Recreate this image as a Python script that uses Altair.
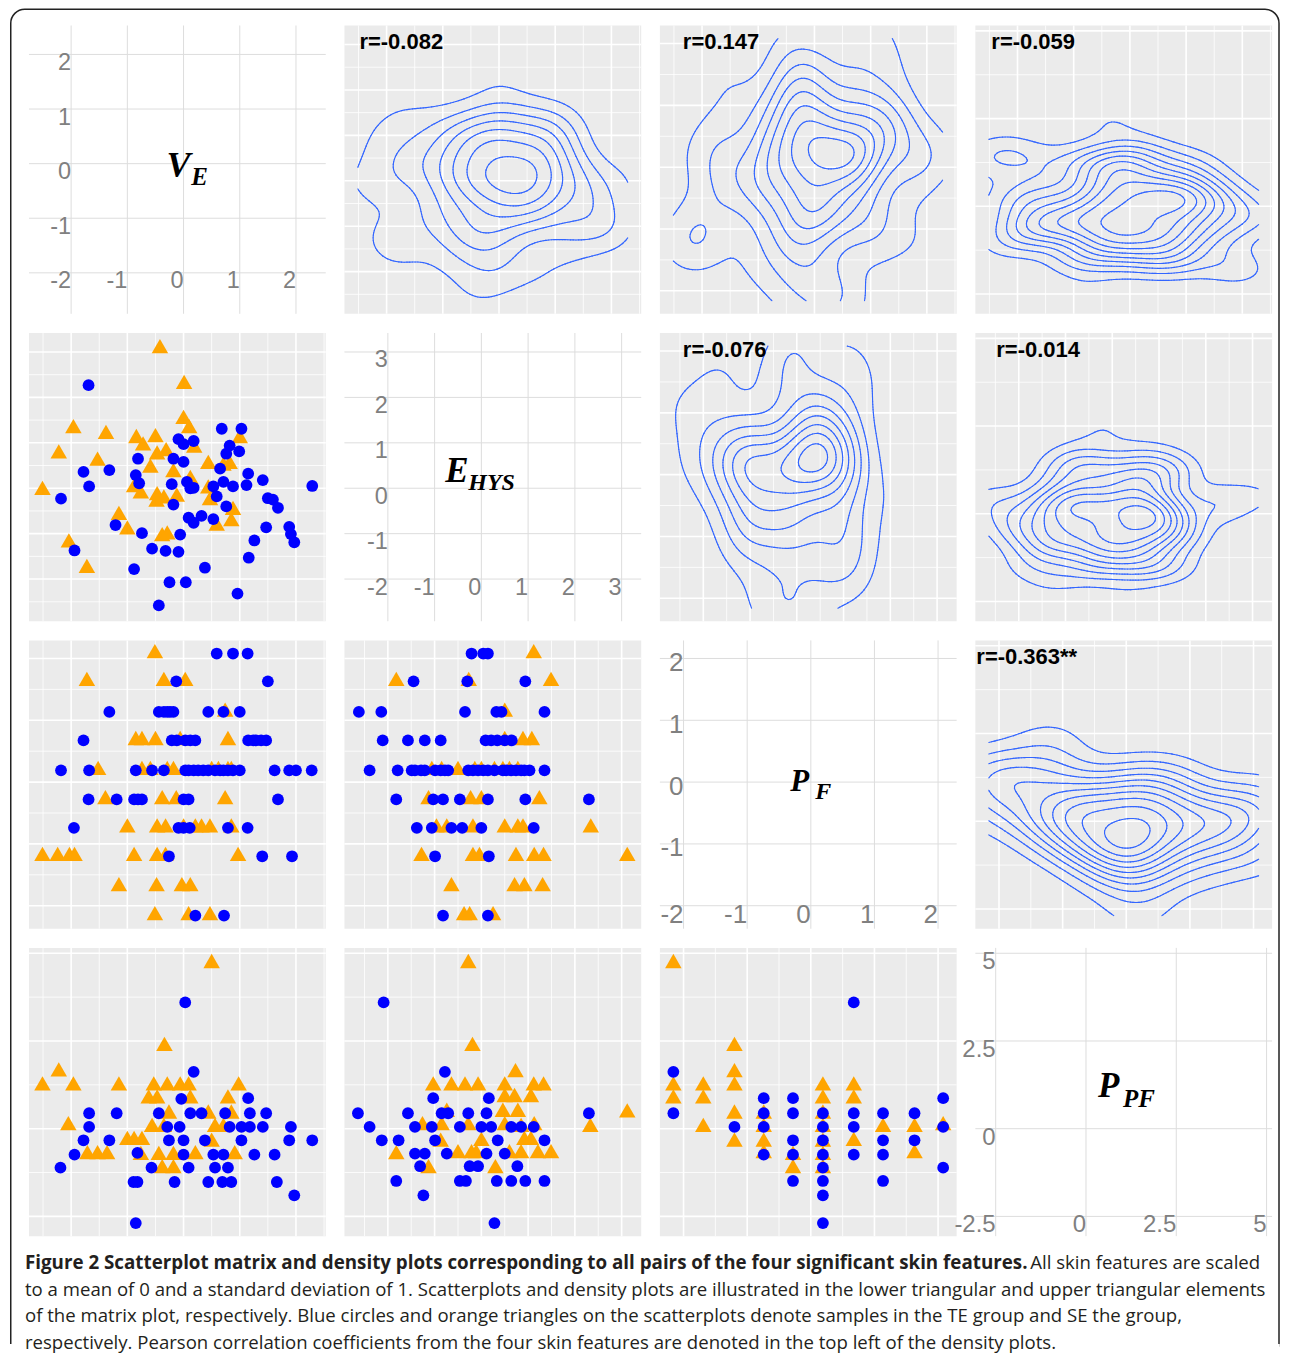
import numpy as np
import pandas as pd
import altair as alt

# ---------------------------------------------------------------
# Data (standardised skin features)
# Scatter panels: (x, y) pairs; TE = blue circles, SE = orange triangles
# ---------------------------------------------------------------
VARS = ["VE", "EHYS", "PF", "PPF"]

# V_E (x) vs E_HYS (y)
S21_TE = [(-1.69, 2.27), (0.68, 1.31), (1.03, 1.31), (-0.09, 1.08), (0.0, 0.97), (0.18, 1.04),
          (-0.81, 0.65), (-0.18, 0.65), (0.0, 0.58), (0.82, 0.94), (0.76, 0.76), (0.99, 0.81),
          (-1.78, 0.36), (-1.32, 0.40), (-1.68, 0.04), (-0.85, 0.29), (-0.79, 0.11), (-0.21, 0.09),
          (0.06, 0.14), (0.12, 0.0), (0.18, 0.01), (0.53, 0.04), (0.71, 0.14), (0.88, 0.04),
          (0.65, 0.43), (1.15, 0.32), (1.12, 0.07), (1.41, 0.18), (2.29, 0.05), (-2.18, -0.23),
          (-0.18, -0.36), (0.59, -0.18), (1.5, -0.22), (1.59, -0.25), (1.68, -0.43), (0.76, -0.40),
          (0.09, -0.65), (0.18, -0.76), (0.32, -0.61), (0.53, -0.68), (-1.21, -0.81), (-0.74, -0.99),
          (-0.06, -1.02), (1.47, -0.86), (1.88, -0.85), (1.91, -1.01), (1.97, -1.19), (1.26, -1.15),
          (-1.94, -1.37), (-0.56, -1.33), (-0.32, -1.38), (-0.09, -1.40), (1.16, -1.53), (-0.88, -1.78),
          (0.38, -1.75), (-0.25, -2.07), (0.04, -2.07), (0.96, -2.32), (-0.44, -2.58)]
S21_SE = [(-0.42, 3.13), (0.01, 2.34), (0.0, 1.57), (0.10, 1.37), (-1.96, 1.37), (-1.38, 1.24),
          (-2.22, 0.81), (-1.53, 0.65), (-2.51, 0.01), (-0.84, 1.15), (-0.72, 0.99), (-0.50, 1.17),
          (-0.47, 0.79), (-0.31, 0.86), (-0.59, 0.50), (0.19, 0.94), (0.44, 0.58), (0.82, 0.58),
          (0.71, 0.54), (1.0, 1.15), (-0.18, 0.40), (0.12, 0.25), (-0.88, 0.07), (-0.76, -0.07),
          (-0.47, -0.11), (-0.35, -0.18), (-0.12, -0.14), (-0.48, -0.25), (0.44, 0.04), (0.47, -0.22),
          (-1.15, -0.54), (-1.0, -0.86), (0.59, -0.78), (0.85, -0.68), (0.88, -0.43), (-0.38, -1.01),
          (-0.29, -0.97), (-2.04, -1.15), (-1.72, -1.71)]

# V_E (x) vs P_F (y)   (dense rows read as runs of overlapping circles)
S31_TE = [(0.59, 2.08), (0.88, 2.08), (1.14, 2.08), (-0.13, 1.63), (1.5, 1.63),
          (-1.32, 1.135), (-0.44, 1.135), (-0.35, 1.135), (-0.29, 1.135), (-0.24, 1.135), (-0.18, 1.135),
          (0.44, 1.135), (0.71, 1.135), (1.0, 1.135),
          (-1.78, 0.675), (-0.21, 0.675), (-0.12, 0.675), (0.03, 0.675), (0.12, 0.675), (0.21, 0.675),
          (1.15, 0.675), (1.24, 0.675), (1.29, 0.675), (1.38, 0.675), (1.47, 0.675),
          (-2.18, 0.19), (-1.68, 0.19), (-0.85, 0.19), (-0.56, 0.19), (-0.35, 0.19), (0.03, 0.19), (0.09, 0.19),
          (0.18, 0.19), (0.26, 0.19), (0.35, 0.19), (0.44, 0.19), (0.56, 0.19), (0.65, 0.19), (0.71, 0.19),
          (0.79, 0.19), (0.88, 0.19), (1.0, 0.19), (1.62, 0.19), (1.88, 0.19), (2.0, 0.19), (2.28, 0.19),
          (-1.69, -0.28), (-1.19, -0.28), (-0.88, -0.28), (-0.81, -0.28), (-0.74, -0.28), (0.0, -0.28),
          (0.09, -0.28), (1.68, -0.28),
          (-1.95, -0.74), (-0.09, -0.74), (0.0, -0.74), (0.11, -0.74), (0.79, -0.74), (1.14, -0.74),
          (-0.26, -1.2), (1.4, -1.2), (1.93, -1.2), (0.21, -2.16), (0.72, -2.16)]
S31_SE = [(-0.51, 2.08), (-1.72, 1.63), (-0.35, 1.63), (0.03, 1.63), (0.74, 1.135),
          (-0.85, 0.675), (-0.74, 0.675), (-0.5, 0.675), (-0.06, 0.675), (0.79, 0.675),
          (-1.52, 0.19), (-0.74, 0.19), (-0.59, 0.19), (-0.29, 0.19), (-0.18, 0.19), (0.5, 0.19), (0.62, 0.19),
          (0.79, 0.19), (0.85, 0.19),
          (-1.39, -0.28), (-0.38, -0.28), (-0.13, -0.28), (0.74, -0.28),
          (-1.0, -0.74), (-0.47, -0.74), (-0.32, -0.74), (0.0, -0.74), (0.21, -0.74), (0.32, -0.74), (0.47, -0.74),
          (0.85, -0.74),
          (-2.51, -1.2), (-2.24, -1.2), (-2.03, -1.2), (-1.94, -1.2), (-0.88, -1.2), (-0.47, -1.2), (-0.32, -1.2),
          (0.97, -1.2),
          (-1.15, -1.69), (-0.48, -1.69), (-0.03, -1.69), (0.12, -1.69),
          (-0.51, -2.16), (0.09, -2.16), (0.47, -2.16)]

# E_HYS (x) vs P_F (y)
S32_TE = [(-0.21, 2.08), (0.04, 2.08), (0.14, 2.08), (-1.45, 1.63), (-0.30, 1.63), (0.94, 1.63),
          (-2.62, 1.135), (-2.14, 1.135), (-0.35, 1.135), (0.32, 1.135), (0.43, 1.135), (1.35, 1.135),
          (-2.11, 0.675), (-1.57, 0.675), (-1.21, 0.675), (-0.87, 0.675), (0.09, 0.675), (0.21, 0.675),
          (0.34, 0.675), (0.5, 0.675), (0.65, 0.675),
          (-2.39, 0.19), (-1.79, 0.19), (-1.49, 0.19), (-1.42, 0.19), (-1.29, 0.19), (-1.21, 0.19), (-0.99, 0.19),
          (-0.87, 0.19), (-0.78, 0.19), (-0.71, 0.19), (-0.28, 0.19), (-0.18, 0.19), (-0.07, 0.19), (0.04, 0.19),
          (0.14, 0.19), (0.28, 0.19), (0.46, 0.19), (0.53, 0.19), (0.64, 0.19), (0.74, 0.19), (0.85, 0.19),
          (0.92, 0.19), (1.03, 0.19), (1.35, 0.19),
          (-1.82, -0.28), (-1.03, -0.28), (-0.82, -0.28), (-0.46, -0.28), (0.14, -0.28), (0.94, -0.28), (2.3, -0.28),
          (-1.38, -0.74), (-1.06, -0.74), (-0.64, -0.74), (-0.41, -0.74), (0.0, -0.74), (1.12, -0.74),
          (-0.99, -1.2), (0.16, -1.2), (-0.82, -2.16), (0.14, -2.16)]
S32_SE = [(1.12, 2.08), (-1.82, 1.63), (-0.27, 1.63), (1.49, 1.63), (0.50, 1.135),
          (0.5, 0.675), (0.89, 0.675), (1.08, 0.675),
          (-1.06, 0.19), (-0.85, 0.19), (-0.5, 0.19), (-0.14, 0.19), (0.0, 0.19), (0.28, 0.19), (0.46, 0.19),
          (0.6, 0.19), (0.78, 0.19),
          (-1.13, -0.28), (-0.23, -0.28), (0.0, -0.28), (1.24, -0.28),
          (-0.96, -0.74), (-0.74, -0.74), (-0.18, -0.74), (0.5, -0.74), (0.78, -0.74), (0.89, -0.74), (2.34, -0.74),
          (-1.28, -1.2), (-0.18, -1.2), (-0.04, -1.2), (0.74, -1.2), (1.13, -1.2), (1.33, -1.2), (3.12, -1.2),
          (-0.64, -1.69), (0.71, -1.69), (0.92, -1.69), (1.31, -1.69),
          (-0.37, -2.16), (-0.25, -2.16), (0.25, -2.16)]

# V_E (x) vs P_PF (y)
S41_TE = [(0.03, 3.60), (0.18, 1.62), (-0.04, 0.85), (1.15, 0.87),
          (-1.68, 0.44), (-1.19, 0.44), (-0.44, 0.44), (0.12, 0.44), (0.32, 0.44), (0.74, 0.44), (1.18, 0.44), (1.47, 0.44),
          (-1.68, 0.05), (-0.29, 0.05), (-0.07, 0.05), (0.82, 0.05), (1.03, 0.05), (1.18, 0.05), (1.41, 0.05), (1.91, 0.05),
          (-1.78, -0.33), (-1.32, -0.33), (-0.26, -0.33), (0.0, -0.33), (0.38, -0.33), (1.03, -0.33), (1.88, -0.33),
          (2.29, -0.33),
          (-1.94, -0.74), (-0.82, -0.69), (0.0, -0.74), (0.53, -0.74), (0.71, -0.74), (1.26, -0.74), (1.62, -0.74),
          (-2.19, -1.11), (-0.57, -1.11), (0.09, -1.11), (0.56, -1.11), (0.79, -1.11),
          (-0.89, -1.52), (-0.82, -1.52), (-0.16, -1.52), (0.44, -1.52), (0.69, -1.52), (0.85, -1.52), (1.66, -1.52),
          (1.97, -1.90), (-0.85, -2.69)]
S41_SE = [(0.5, 4.78), (-0.34, 2.42), (-2.22, 1.69),
          (-2.51, 1.29), (-1.96, 1.29), (-1.15, 1.29), (-0.53, 1.29), (-0.29, 1.29), (-0.06, 1.29), (0.09, 1.29),
          (0.98, 1.29),
          (-0.62, 0.92), (-0.47, 0.92), (0.12, 0.92), (0.79, 0.92),
          (-2.05, 0.16), (-0.26, 0.49), (0.44, 0.49), (0.85, 0.49),
          (-0.56, 0.11), (-0.35, 0.11), (0.56, 0.11), (0.71, 0.11),
          (-1.0, -0.26), (-0.88, -0.26), (-0.74, -0.26), (0.5, -0.31),
          (-1.71, -0.67), (-1.53, -0.67), (-1.36, -0.67), (-0.76, -0.69), (-0.44, -0.69), (-0.18, -0.69),
          (0.21, -0.67), (0.91, -0.67),
          (-0.38, -1.07), (-0.18, -1.07)]

# E_HYS (x) vs P_PF (y)
S42_TE = [(-2.09, 3.60), (-0.78, 1.62), (-1.03, 0.87), (0.16, 0.87),
          (-2.64, 0.44), (-1.57, 0.44), (-0.85, 0.44), (-0.71, 0.44), (-0.28, 0.44), (0.11, 0.44), (2.30, 0.44),
          (-2.39, 0.05), (-1.42, 0.05), (-1.06, 0.05), (-0.46, 0.05), (0.0, 0.05), (0.21, 0.05), (0.64, 0.05),
          (0.85, 0.05), (1.12, 0.05),
          (-2.13, -0.33), (-1.77, -0.33), (-0.99, -0.33), (0.35, -0.33), (1.35, -0.33),
          (-1.42, -0.71), (-1.21, -0.71), (-0.74, -0.71), (0.11, -0.71), (0.50, -0.71),
          (-1.31, -1.07), (-0.25, -1.07), (-0.07, -1.07), (0.77, -1.07),
          (-1.82, -1.49), (-0.46, -1.49), (-0.33, -1.49), (0.33, -1.49), (0.64, -1.49), (0.94, -1.49), (1.35, -1.49),
          (-1.24, -1.90), (0.28, -2.69)]
S42_SE = [(-0.28, 4.78), (-0.19, 2.42), (0.73, 1.67),
          (-1.03, 1.29), (-0.64, 1.29), (-0.35, 1.29), (-0.07, 1.29), (0.50, 1.29), (1.12, 1.29), (1.33, 1.29),
          (0.50, 0.96), (0.71, 0.96), (1.06, 0.96),
          (-0.74, 0.54), (0.46, 0.54), (0.78, 0.54), (3.12, 0.52),
          (-1.26, 0.16), (-0.85, 0.16), (-0.28, 0.16), (0.50, 0.16), (0.85, 0.11), (1.13, 0.16), (2.33, 0.11),
          (-0.87, -0.31), (0.0, -0.29), (0.92, -0.26), (1.06, -0.26),
          (-1.82, -0.67), (-0.50, -0.64), (-0.21, -0.64), (-0.11, -0.64), (0.60, -0.64), (0.85, -0.64),
          (1.21, -0.64), (1.49, -0.64),
          (-1.13, -1.07), (0.30, -1.07)]

# P_F (x) vs P_PF (y)
S43_TE = [(-2.16, 1.62), (-2.16, 0.44), (-1.2, 0.05),
          (-0.74, 0.87), (-0.74, 0.44), (-0.74, 0.05), (-0.74, -0.74),
          (-0.28, 0.87), (-0.28, 0.44), (-0.28, -0.33), (-0.28, -0.74), (-0.28, -1.49),
          (0.19, 0.44), (0.19, 0.05), (0.19, -0.33), (0.19, -0.74), (0.19, -1.11), (0.19, -1.49), (0.19, -1.90),
          (0.19, -2.69),
          (0.675, 3.60), (0.675, 0.44), (0.675, 0.05), (0.675, -0.74),
          (1.135, 0.44), (1.135, -0.33), (1.135, -0.74), (1.135, -1.49),
          (1.63, 0.44), (1.63, -0.33), (2.08, 0.87), (2.08, 0.05), (2.08, -1.11)]
S43_SE = [(-2.16, 4.78), (-2.16, 1.29), (-2.16, 0.92),
          (-1.69, 1.29), (-1.69, 0.92), (-1.69, 0.11),
          (-1.2, 2.42), (-1.2, 1.67), (-1.2, 1.29), (-1.2, 0.49), (-1.2, -0.31),
          (-0.74, 0.49), (-0.74, 0.11), (-0.74, -0.31), (-0.74, -0.64),
          (-0.28, -0.69), (-0.28, -1.07),
          (0.19, 1.29), (0.19, 0.92), (0.19, 0.49), (0.19, 0.11), (0.19, -0.31), (0.19, -0.69), (0.19, -1.07),
          (0.675, 1.29), (0.675, 0.92), (0.675, -0.29),
          (1.135, 0.11), (1.63, 0.11), (1.63, -0.64), (2.08, 0.16)]

# tick labels of the diagonal panels
MAJOR = {"VE": [-2, -1, 0, 1, 2], "EHYS": [-2, -1, 0, 1, 2, 3],
         "PF": [-2, -1, 0, 1, 2], "PPF": [-2.5, 0, 2.5, 5]}
NAMES = {"VE": ("V", "E"), "EHYS": ("E", "HYS"), "PF": ("P", "F"), "PPF": ("P", "PF")}
R_LABELS = {(0, 1): "r=-0.082", (0, 2): "r=0.147", (0, 3): "r=-0.059",
            (1, 2): "r=-0.076", (1, 3): "r=-0.014", (2, 3): "r=-0.363**"}
# number of density contour lines visible in each upper panel
N_CONTOURS = {(0, 1): 7, (0, 2): 8, (0, 3): 9, (1, 2): 8, (1, 3): 9, (2, 3): 10}

CAP_BOLD = ("Figure 2 Scatterplot matrix and density plots corresponding to all pairs of the four "
            "significant skin features.")
CAP_LINES = ["All skin features are scaled",
             "to a mean of 0 and a standard deviation of 1. Scatterplots and density plots are illustrated in "
             "the lower triangular and upper triangular elements",
             "of the matrix plot, respectively. Blue circles and orange triangles on the scatterplots denote "
             "samples in the TE group and SE the group,",
             "respectively. Pearson correlation coefficients from the four skin features are denoted in the top "
             "left of the density plots."]

SCATTER = {(1, 0): (S21_TE, S21_SE), (2, 0): (S31_TE, S31_SE), (2, 1): (S32_TE, S32_SE),
           (3, 0): (S41_TE, S41_SE), (3, 1): (S42_TE, S42_SE), (3, 2): (S43_TE, S43_SE)}

# ---------------------------------------------------------------
# layout / style
# ---------------------------------------------------------------
W, H = 297, 288.5
SP = 18.7
BLUE, ORANGE = "#0000FF", "#FFA500"
CONTOUR = "#3366FF"
PANEL_BG = "#EBEBEB"
R_TRI = "M0,-1.555L1.347,0.778L-1.347,0.778Z"   # R-style filled triangle (pch 17)

DIAG_FMT = {"VE": (23.5, -3.5, -3.5), "EHYS": (23.5, -3.5, -3.5), "PF": (26, -3.5, -8.5), "PPF": (24, -3, -3)}
NAME_POS = {"VE": ((-11, 7, 36), (14, 15, 25)), "EHYS": ((-47.5, 4.7, 35), (-24.5, 13, 24)),
            "PF": ((-18, 6.3, 31), (7, 14.7, 24)), "PPF": ((-25.7, 5.3, 35), (-0.7, 15.3, 25))}
R_POS = {(0, 1): 15, (0, 2): 23, (0, 3): 16, (1, 2): 23, (1, 3): 21, (2, 3): 1}
CAP_SIZE = 18.6

# ---------------------------------------------------------------
# domains (data range + 5 %)
# ---------------------------------------------------------------
vals = {v: [] for v in VARS}
for (r, c), (te, se) in SCATTER.items():
    for px, py in te + se:
        vals[VARS[c]].append(px)
        vals[VARS[r]].append(py)
DOM = {}
for v in VARS:
    lo, hi = min(vals[v]), max(vals[v])
    e = 0.05 * (hi - lo)
    DOM[v] = [lo - e, hi + e]


def minor_ticks(v):
    m = MAJOR[v]
    st = m[1] - m[0]
    cand = [m[0] - st / 2] + [a + st / 2 for a in m]
    return [t for t in cand if DOM[v][0] <= t <= DOM[v][1]]


# ---------------------------------------------------------------
# 2-d kernel density (as MASS::kde2d with bandwidth.nrd) + contours
# ---------------------------------------------------------------
def bw_nrd(v):
    q1, q3 = np.quantile(v, [0.25, 0.75])
    s = min(np.std(v, ddof=1), (q3 - q1) / 1.34)
    return 4 * 1.06 * s * len(v) ** (-0.2)


def kde2d(x, y, n=100):
    gx = np.linspace(x.min(), x.max(), n)
    gy = np.linspace(y.min(), y.max(), n)
    hx, hy = bw_nrd(x) / 4, bw_nrd(y) / 4
    phi = lambda u: np.exp(-0.5 * u * u) / np.sqrt(2 * np.pi)
    ax = phi((gx[:, None] - x[None, :]) / hx)
    ay = phi((gy[:, None] - y[None, :]) / hy)
    z = ax @ ay.T / (len(x) * hx * hy)
    return gx, gy, z


def iso_segments(gx, gy, z, lev):
    A = z >= lev
    a, b, c, d = A[:-1, :-1], A[1:, :-1], A[1:, 1:], A[:-1, 1:]
    idx = a * 1 + b * 2 + c * 4 + d * 8
    ii, jj = np.nonzero((idx > 0) & (idx < 15))
    out = []
    for i, j in zip(ii, jj):
        z0, z1, z2, z3 = z[i, j], z[i + 1, j], z[i + 1, j + 1], z[i, j + 1]

        def ept(k):
            if k == 0:
                t = (lev - z0) / (z1 - z0)
                return gx[i] + t * (gx[i + 1] - gx[i]), gy[j]
            if k == 1:
                t = (lev - z1) / (z2 - z1)
                return gx[i + 1], gy[j] + t * (gy[j + 1] - gy[j])
            if k == 2:
                t = (lev - z3) / (z2 - z3)
                return gx[i] + t * (gx[i + 1] - gx[i]), gy[j + 1]
            t = (lev - z0) / (z3 - z0)
            return gx[i], gy[j] + t * (gy[j + 1] - gy[j])

        flags = [a[i, j] != b[i, j], b[i, j] != c[i, j], d[i, j] != c[i, j], a[i, j] != d[i, j]]
        cr = [k for k in range(4) if flags[k]]
        if len(cr) == 2:
            pairs = [(cr[0], cr[1])]
        else:
            center = (z0 + z1 + z2 + z3) / 4 >= lev
            pairs = [(0, 1), (2, 3)] if (idx[i, j] == 5) == center else [(3, 0), (1, 2)]
        for p, q in pairs:
            p1, p2 = ept(p), ept(q)
            out.append((p1[0], p1[1], p2[0], p2[1]))
    return out


def density_df(points, n_lines):
    arr = np.array(points, dtype=float)
    gx, gy, z = kde2d(arr[:, 0], arr[:, 1])
    step = z.max() / (n_lines + 0.6)
    segs = []
    for k in range(1, n_lines + 1):
        segs += iso_segments(gx, gy, z, k * step)
    return pd.DataFrame(segs, columns=["x", "y", "x2", "y2"]).round(4)


# ---------------------------------------------------------------
# panels
# ---------------------------------------------------------------
def one_row():
    return pd.DataFrame({"k": [0]})


def panel(r, c):
    if r == c:
        xv = yv = VARS[r]
    elif r > c:
        xv, yv = VARS[c], VARS[r]
    else:
        xv, yv = VARS[r], VARS[c]
    xs = alt.Scale(domain=DOM[xv], nice=False, zero=False)
    ys = alt.Scale(domain=DOM[yv], nice=False, zero=False)
    X = lambda f: alt.X(f, type="quantitative", scale=xs, axis=None)
    Y = lambda f: alt.Y(f, type="quantitative", scale=ys, axis=None)
    layers = []

    if r == c:
        v = VARS[r]
        gdx = pd.DataFrame({"v": MAJOR[v]})
        layers.append(alt.Chart(gdx).mark_rule(color="#DDDDDD", strokeWidth=1).encode(x=X("v")))
        layers.append(alt.Chart(gdx).mark_rule(color="#DDDDDD", strokeWidth=1).encode(y=Y("v")))
        size, xdy, ydy = DIAG_FMT[v]
        lab = pd.DataFrame({"v": MAJOR[v], "t": [f"{t:g}" for t in MAJOR[v]], "b": MAJOR[v][0]})
        tstyle = dict(align="right", baseline="top", font="Liberation Sans", fontSize=size, color="#808080")
        layers.append(alt.Chart(lab).mark_text(dy=xdy, **tstyle).encode(x=X("v"), y=Y("b"), text="t:N"))
        layers.append(alt.Chart(lab.iloc[1:]).mark_text(dy=ydy, **tstyle).encode(
            x=X("b"), y=Y("v"), text="t:N"))
        main, sub = NAMES[v]
        (mdx, mdy, ms), (sdx, sdy, ss) = NAME_POS[v]
        nstyle = dict(align="left", baseline="alphabetic", font="Liberation Serif", fontStyle="italic",
                      fontWeight="bold", color="#000000")
        layers.append(alt.Chart(pd.DataFrame({"t": [main]})).mark_text(fontSize=ms, **nstyle).encode(
            x=alt.value(W / 2 + mdx), y=alt.value(H / 2 + mdy), text="t:N"))
        layers.append(alt.Chart(pd.DataFrame({"t": [sub]})).mark_text(fontSize=ss, **nstyle).encode(
            x=alt.value(W / 2 + sdx), y=alt.value(H / 2 + sdy), text="t:N"))
        view = alt.ViewBackground(fill="#FFFFFF", stroke="transparent")
    else:
        for ticks, wdt in ((minor_ticks, 0.8), (lambda q: MAJOR[q], 1.6)):
            layers.append(alt.Chart(pd.DataFrame({"v": ticks(xv)})).mark_rule(
                color="#FFFFFF", strokeWidth=wdt).encode(x=X("v")))
            layers.append(alt.Chart(pd.DataFrame({"v": ticks(yv)})).mark_rule(
                color="#FFFFFF", strokeWidth=wdt).encode(y=Y("v")))
        if r > c:
            te, se = SCATTER[(r, c)]
            dte = pd.DataFrame(te, columns=["x", "y"])
            dse = pd.DataFrame(se, columns=["x", "y"])
            tri = R_TRI if yv == "PF" else "triangle-up"
            tsize = 150 if yv == "PF" else 272
            layers.append(alt.Chart(dse).mark_point(filled=True, shape=tri, size=tsize, color=ORANGE,
                                                    opacity=1, strokeWidth=0).encode(x=X("x"), y=Y("y")))
            layers.append(alt.Chart(dte).mark_point(filled=True, shape="circle", size=139, color=BLUE,
                                                    opacity=1, strokeWidth=0).encode(x=X("x"), y=Y("y")))
        else:
            te, se = SCATTER[(c, r)]
            dd = density_df(te + se, N_CONTOURS[(r, c)])
            layers.append(alt.Chart(dd).mark_rule(color=CONTOUR, strokeWidth=1.15, strokeCap="round",
                                                  clip=True).encode(
                x=X("x"), y=Y("y"), x2="x2:Q", y2="y2:Q"))
            layers.append(alt.Chart(pd.DataFrame({"t": [R_LABELS[(r, c)]]})).mark_text(
                align="left", baseline="middle", font="Liberation Sans", fontWeight="bold", fontSize=22,
                color="#000000").encode(x=alt.value(R_POS[(r, c)]), y=alt.value(17), text="t:N"))
        view = alt.ViewBackground(fill=PANEL_BG, stroke="transparent")

    if (r, c) == (0, 0):
        # rounded figure frame
        layers.append(alt.Chart(one_row()).mark_rect(
            fillOpacity=0, stroke="#222222", strokeWidth=1.5,
            cornerRadiusTopLeft=14, cornerRadiusTopRight=14).encode(
            x=alt.value(-18.25), x2=alt.value(1251), y=alt.value(-16.25), y2=alt.value(1321.5)))
        layers.append(alt.Chart(one_row()).mark_rule(color="#FFFFFF", strokeWidth=4, strokeCap="butt").encode(
            x=alt.value(-19), x2=alt.value(1251.75), y=alt.value(1321.5)))
    if (r, c) == (3, 0):
        cst = dict(align="left", baseline="middle", font="Open Sans", color="#231F20")
        layers.append(alt.Chart(pd.DataFrame({"t": [CAP_BOLD]})).mark_text(
            fontWeight="bold", fontSize=CAP_SIZE * 1.011, **cst).encode(
            x=alt.value(-4), y=alt.value(315.5), text="t:N"))
        layers.append(alt.Chart(pd.DataFrame({"t": [CAP_LINES[0]]})).mark_text(fontSize=CAP_SIZE, **cst).encode(
            x=alt.value(1002), y=alt.value(315.5), text="t:N"))
        for k, ln in enumerate(CAP_LINES[1:]):
            layers.append(alt.Chart(pd.DataFrame({"t": [ln]})).mark_text(fontSize=CAP_SIZE, **cst).encode(
                x=alt.value(-4), y=alt.value(342.5 + 26.3 * k), text="t:N"))

    return alt.layer(*layers).properties(width=W, height=H, view=view)


panels = [panel(r, c) for r in range(4) for c in range(4)]
chart = alt.concat(*panels, columns=4, spacing=SP, bounds="flush").properties(
    padding={"left": 0, "top": 0, "right": 0, "bottom": 0}
).configure_view(strokeWidth=0)

chart.save("out.html", embed_options={"renderer": "svg", "actions": False})
